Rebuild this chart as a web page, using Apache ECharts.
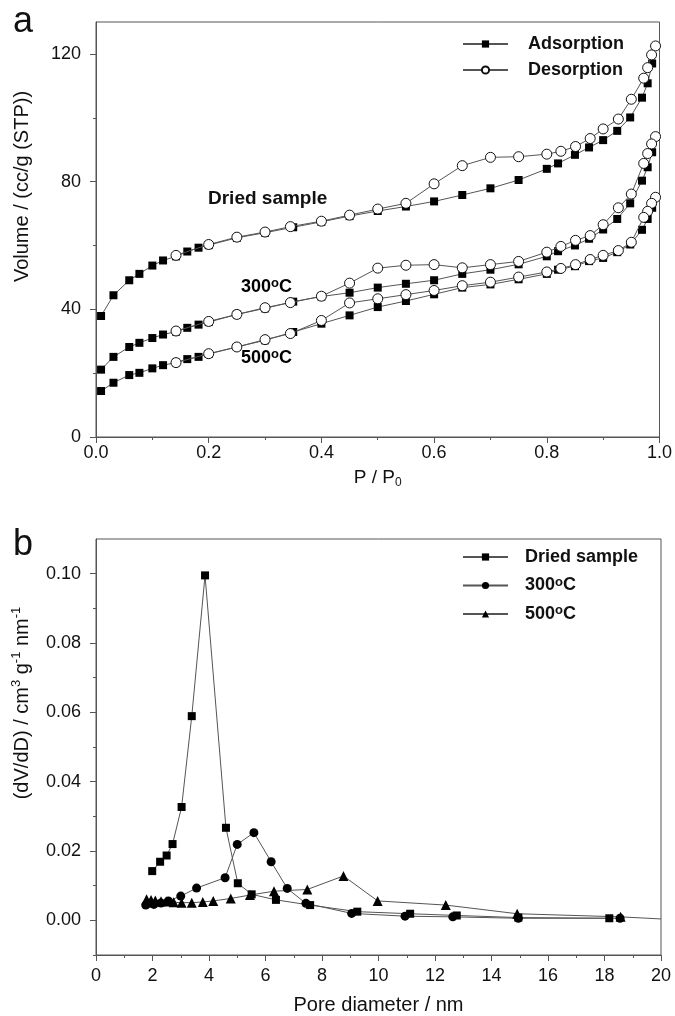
<!DOCTYPE html>
<html><head><meta charset="utf-8">
<script src="https://cdn.jsdelivr.net/npm/echarts@6/dist/echarts.min.js"></script>
<style>html,body{margin:0;padding:0;background:#fff}#c{width:675px;height:1016px}</style>
</head><body><div id="c"></div>
<script>
// ---------- Panel a: N2 isotherms ----------
const pAds = [0.009,0.031,0.059,0.077,0.10,0.119,0.142,0.162,0.182,0.20,0.25,0.30,0.35,0.40,0.45,0.50,0.55,0.60,0.65,0.70,0.75,0.80,0.82,0.85,0.875,0.90,0.925,0.948,0.969,0.979,0.987];
const driedAds = [37.9,44.4,49.1,51.1,53.7,55.3,56.6,58.1,59.3,60.1,62.4,64.0,65.7,67.4,69.2,70.8,72.2,73.8,75.8,77.9,80.5,84.0,85.7,88.4,90.7,93.0,95.9,100.1,106.3,110.8,117.0];
const c300Ads = [21.1,25.1,28.2,29.5,31.0,32.1,33.0,34.2,35.2,36.0,38.4,40.3,42.4,44.0,45.2,46.8,48.0,49.1,51.1,52.4,54.1,56.6,58.2,60.0,62.1,65.0,68.3,73.2,80.3,84.5,89.2];
const c500Ads = [14.4,17.0,19.4,20.1,21.5,22.5,23.3,24.4,25.1,26.0,28.2,30.3,32.9,35.5,38.1,40.7,42.6,44.7,46.8,47.8,49.4,51.1,52.4,53.5,55.1,56.1,57.9,60.3,64.9,68.3,71.8];
const pDes = [0.993,0.986,0.979,0.972,0.95,0.927,0.90,0.877,0.851,0.825,0.80,0.75,0.70,0.65,0.60,0.55,0.50,0.45,0.40,0.345,0.30,0.25,0.20,0.142];
const driedDes = [122.5,119.7,115.7,112.4,105.8,99.6,96.5,93.5,91.0,89.5,88.6,87.8,87.6,85.0,79.3,73.2,71.4,69.5,67.6,65.9,64.2,62.6,60.3,56.9];
const c300Des = [94.1,91.8,88.8,85.7,76.1,71.8,66.5,63.1,61.6,59.7,57.9,55.0,54.0,53.0,54.0,53.8,52.9,48.2,44.1,42.1,40.5,38.4,36.2,33.2];
const c500Des = [75.1,73.2,70.7,68.8,61.0,58.4,56.9,55.6,54.0,52.8,51.7,50.1,48.5,47.4,45.9,44.6,43.3,42.0,36.5,32.4,30.5,28.2,26.1,23.3];
const xTicksA = [0,0.2,0.4,0.6,0.8,1.0];
const xMinorA = [0.1,0.3,0.5,0.7,0.9];
const yTicksA = [0,40,80,120];
const yMinorA = [20,60,100];

// ---------- Panel b: pore size distribution ----------
const dDried = [1.99,2.27,2.50,2.71,3.03,3.39,3.86,4.60,5.02,5.51,6.37,7.58,9.25,11.12,12.77,14.95,18.17];
const vDried = [0.0142,0.0169,0.0187,0.0220,0.0327,0.0589,0.0995,0.0267,0.0107,0.0075,0.0059,0.0044,0.0025,0.0019,0.0014,0.0008,0.0006];
const d300 = [1.76,1.88,2.05,2.30,2.56,3.00,3.56,4.57,5.00,5.59,6.20,6.77,7.43,9.05,10.94,12.63,14.95,18.55];
const v300 = [0.0044,0.0049,0.0046,0.0050,0.0056,0.0070,0.0093,0.0123,0.0219,0.0253,0.0169,0.0092,0.0049,0.0020,0.0012,0.0010,0.0006,0.0006];
const d500 = [1.79,1.95,2.10,2.30,2.50,2.75,3.03,3.39,3.78,4.15,4.77,5.45,6.30,7.48,8.76,9.97,12.38,14.91,18.57,20.0];
const v500 = [0.0061,0.0059,0.0057,0.0055,0.0054,0.0052,0.0051,0.0051,0.0053,0.0056,0.0063,0.0073,0.0084,0.0089,0.0128,0.0056,0.0044,0.0019,0.0010,0.0004];
const xTicksB = [0,2,4,6,8,10,12,14,16,18,20];
const xMinorB = [1,3,5,7,9,11,13,15,17,19];
const yTicksB = [0,0.02,0.04,0.06,0.08,0.10];
const yMinorB = [-0.01,0.01,0.03,0.05,0.07,0.09];

const AX = '#555';
const TXT = '#111';
const FONT = '"Liberation Sans", Arial, Helvetica, sans-serif';
const LINE = {color: '#555', width: 1};

function pairs(xs, ys) { return xs.map((x, i) => [x, ys[i]]); }

function mainAxis(gridIndex, min, max, ticks, fmt, margin, extra) {
  return Object.assign({
    type: 'value', gridIndex, min, max,
    axisLine: {show: true, onZero: false, lineStyle: {color: AX, width: 1}},
    axisTick: {show: true, customValues: ticks, length: 6, lineStyle: {color: AX, width: 1}},
    axisLabel: {show: true, customValues: ticks, formatter: fmt, margin, fontSize: 18, color: TXT, fontFamily: FONT},
    splitLine: {show: false}
  }, extra);
}
function minorAxis(gridIndex, min, max, ticks, position) {
  return {
    type: 'value', gridIndex, min, max, position,
    axisLine: {show: false, onZero: false},
    axisTick: {show: true, customValues: ticks, length: 3, lineStyle: {color: AX, width: 1}},
    axisLabel: {show: false},
    splitLine: {show: false}
  };
}

const supRich = {
  t: {fontSize: 18, fontWeight: 'bold', color: TXT, fontFamily: FONT, lineHeight: 20},
  s: {fontSize: 13, fontWeight: 'bold', color: TXT, fontFamily: FONT, verticalAlign: 'top', lineHeight: 10}
};

const sqA = {symbol: 'rect', symbolSize: 8, itemStyle: {color: '#000', borderColor: '#000', borderWidth: 0}};
const ciA = {symbol: 'circle', symbolSize: 10, itemStyle: {color: '#fff', borderColor: '#111', borderWidth: 1}};

function seriesA(name, data, sym, z) {
  return Object.assign({
    type: 'line', name, data, xAxisIndex: 0, yAxisIndex: 0,
    lineStyle: LINE, showSymbol: true, animation: false, z
  }, sym);
}
function seriesB(name, data, symbol, size) {
  return {
    type: 'line', name, data, xAxisIndex: 2, yAxisIndex: 2,
    symbol, symbolSize: size,
    itemStyle: {color: '#000'}, lineStyle: LINE, animation: false
  };
}

const chart = echarts.init(document.getElementById('c'), null, {renderer: 'canvas'});
chart.setOption({
  animation: false,
  backgroundColor: '#fff',
  textStyle: {fontFamily: FONT},
  grid: [
    {left: 96, top: 22, width: 565, height: 415, show: true, borderColor: AX, borderWidth: 1, backgroundColor: 'transparent'},
    {left: 96, top: 539, width: 565, height: 417, show: true, borderColor: AX, borderWidth: 1, backgroundColor: 'transparent'}
  ],
  xAxis: [
    mainAxis(0, 0, 1, xTicksA, v => v.toFixed(1), 7, {
      position: 'bottom',
      name: '{n|P / P}{sub|0}', nameLocation: 'middle', nameGap: 30,
      nameTextStyle: {rich: {n: {fontSize: 19, color: TXT, fontFamily: FONT, lineHeight: 22}, sub: {fontSize: 12, color: TXT, fontFamily: FONT, verticalAlign: 'bottom', lineHeight: 12}}}
    }),
    minorAxis(0, 0, 1, xMinorA, 'bottom'),
    mainAxis(1, 0, 20, xTicksB, v => String(v), 12, {
      position: 'bottom',
      name: 'Pore diameter / nm', nameLocation: 'middle', nameGap: 40,
      nameTextStyle: {fontSize: 20, color: TXT, fontFamily: FONT}
    }),
    minorAxis(1, 0, 20, xMinorB, 'bottom')
  ],
  yAxis: [
    mainAxis(0, 0, 130, yTicksA, v => String(v), 15, {
      position: 'left',
      name: 'Volume / (cc/g (STP))', nameLocation: 'middle', nameGap: 64, nameRotate: 90,
      nameTextStyle: {fontSize: 20, color: TXT, fontFamily: FONT, padding: [0, 0, 0, 86]}
    }),
    minorAxis(0, 0, 130, yMinorA, 'left'),
    mainAxis(1, -0.01, 0.11, yTicksB, v => v.toFixed(2), 15, {
      position: 'left',
      name: '{n|(dV/dD) / cm}{s|3}{n| g}{s|-1}{n| nm}{s|-1}', nameLocation: 'middle', nameGap: 62, nameRotate: 90,
      nameTextStyle: {padding: [0, 0, 0, 88], rich: {
        n: {fontSize: 20, color: TXT, fontFamily: FONT, lineHeight: 24},
        s: {fontSize: 13, color: TXT, fontFamily: FONT, verticalAlign: 'top', lineHeight: 13}
      }}
    }),
    minorAxis(1, -0.01, 0.11, yMinorB, 'left')
  ],
  legend: [
    {
      data: ['Adsorption', 'Desorption'], orient: 'vertical', left: 462, top: 34, padding: 0,
      itemWidth: 45, itemHeight: 9, itemGap: 6,
      textStyle: {fontSize: 18, fontWeight: 'bold', color: TXT, fontFamily: FONT, lineHeight: 20, padding: [0, 0, 0, 15]}
    },
    {
      data: ['Dried sample', '300°C', '500°C'], orient: 'vertical', left: 462, top: 548, padding: 0,
      itemWidth: 45, itemHeight: 9, itemGap: 9.5,
      formatter: n => n.indexOf('°') >= 0 ? '{t|' + n.replace('°C', '') + '}{s|o}{t|C}' : '{t|' + n + '}',
      textStyle: {padding: [0, 0, 0, 12], rich: supRich}
    }
  ],
  graphic: [
    {type: 'text', x: 13, y: 22, style: {text: 'a', font: '36px ' + FONT, fill: TXT, verticalAlign: 'middle'}},
    {type: 'text', x: 13, y: 545, style: {text: 'b', font: '36px ' + FONT, fill: TXT, verticalAlign: 'middle'}},
    {type: 'text', x: 208, y: 199, style: {text: 'Dried sample', font: 'bold 19px ' + FONT, fill: TXT, verticalAlign: 'middle'}},
    {type: 'text', x: 241, y: 287, style: {text: '{t|300}{s|o}{t|C}', rich: supRich, verticalAlign: 'middle'}},
    {type: 'text', x: 241, y: 358, style: {text: '{t|500}{s|o}{t|C}', rich: supRich, verticalAlign: 'middle'}}
  ],
  series: [
    seriesA('Adsorption', pairs(pAds, driedAds), sqA, 2),
    seriesA('Adsorption', pairs(pAds, c300Ads), sqA, 2),
    seriesA('Adsorption', pairs(pAds, c500Ads), sqA, 2),
    seriesA('Desorption', pairs(pDes, driedDes), ciA, 3),
    seriesA('Desorption', pairs(pDes, c300Des), ciA, 3),
    seriesA('Desorption', pairs(pDes, c500Des), ciA, 3),
    seriesB('Dried sample', pairs(dDried, vDried), 'rect', 8),
    seriesB('300°C', pairs(d300, v300), 'circle', 9),
    Object.assign(seriesB('500°C', pairs(d500, v500), 'triangle', 10), {
      data: pairs(d500, v500).map((p, i) => i === d500.length - 1 ? {value: p, symbolSize: 0} : p)
    })
  ]
});
</script>
</body></html>
